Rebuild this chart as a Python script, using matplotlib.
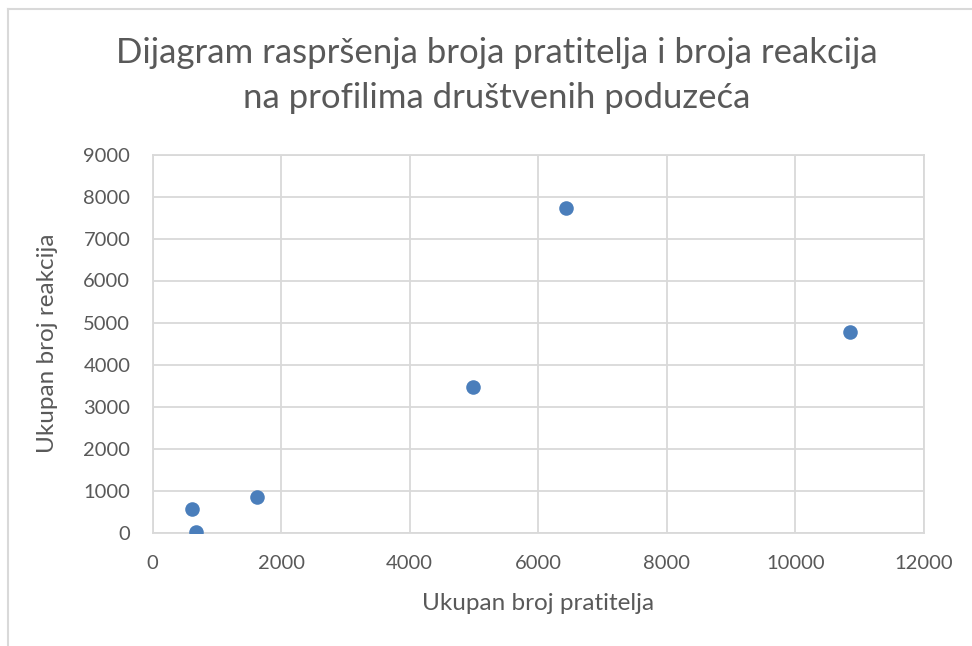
import matplotlib
matplotlib.use("Agg")
import matplotlib.pyplot as plt
from matplotlib.lines import Line2D

# Data
followers = [610, 672, 1625, 4980, 6430, 10851]
reactions = [552, 5, 852, 3464, 7733, 4781]

x_ticks = [0, 2000, 4000, 6000, 8000, 10000, 12000]
y_ticks = [0, 1000, 2000, 3000, 4000, 5000, 6000, 7000, 8000, 9000]

title_line1 = "Dijagram raspršenja broja pratitelja i broja reakcija"
title_line2 = "na profilima društvenih poduzeća"
x_label = "Ukupan broj pratitelja"
y_label = "Ukupan broj reakcija"

FONT = ["Lato", "DejaVu Sans"]
TEXT_COL = "#595959"
GRID_COL = "#d9d9d9"
POINT_COL = "#4a7ebb"

W, H = 972, 646
fig = plt.figure(figsize=(W / 100, H / 100), dpi=100)
fig.patch.set_facecolor("white")

# Chart-area border (top and left visible)
fig.add_artist(Line2D([7.5 / W, 1.0], [1 - 9 / H, 1 - 9 / H], color=GRID_COL, lw=1.5,
                      transform=fig.transFigure))
fig.add_artist(Line2D([7.5 / W, 7.5 / W], [0, 1 - 9 / H], color=GRID_COL, lw=1.5,
                      transform=fig.transFigure))

left, right = 152.5 / W, 924 / W
bottom, top = 1 - 532.5 / H, 1 - 154.5 / H
ax = fig.add_axes([left, bottom, right - left, top - bottom])

ax.scatter(followers, reactions, s=110, color=POINT_COL, zorder=3, linewidths=0)

ax.set_xlim(0, 12000)
ax.set_ylim(0, 9000)
ax.set_xticks(x_ticks)
ax.set_yticks(y_ticks)
ax.set_xticklabels([str(v) for v in x_ticks], family=FONT, fontsize=14.5, color=TEXT_COL)
ax.set_yticklabels([str(v) for v in y_ticks], family=FONT, fontsize=14.5, color=TEXT_COL)
ax.tick_params(length=0)
ax.tick_params(axis="x", pad=16)
ax.tick_params(axis="y", pad=16)
ax.grid(True, color=GRID_COL, lw=1.3, zorder=0)
ax.set_axisbelow(True)
for s in ax.spines.values():
    s.set_color(GRID_COL)
    s.set_linewidth(1.3)

fig.text(497 / W, 1 - 63 / H, title_line1, ha="center", va="baseline", family=FONT,
         fontsize=25, color=TEXT_COL)
fig.text(497 / W, 1 - 108 / H, title_line2, ha="center", va="baseline", family=FONT,
         fontsize=25, color=TEXT_COL)
fig.text(538 / W, 1 - 604 / H, x_label, ha="center", va="center", family=FONT,
         fontsize=17.5, color=TEXT_COL)
fig.text(48 / W, 1 - 343 / H, y_label, ha="center", va="center", rotation=90,
         family=FONT, fontsize=17.5, color=TEXT_COL)

fig.savefig("out.png", dpi=100)
